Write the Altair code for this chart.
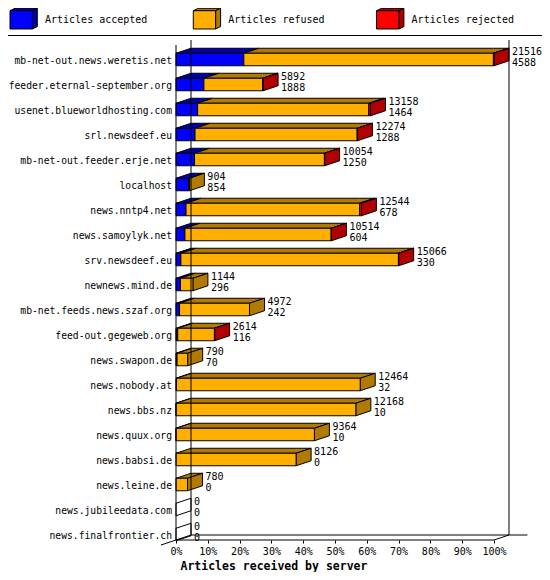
import altair as alt
import pandas as pd

# ------------------------------------------------------------------ data
servers = [
    "mb-net-out.news.weretis.net",
    "feeder.eternal-september.org",
    "usenet.blueworldhosting.com",
    "srl.newsdeef.eu",
    "mb-net-out.feeder.erje.net",
    "localhost",
    "news.nntp4.net",
    "news.samoylyk.net",
    "srv.newsdeef.eu",
    "newnews.mind.de",
    "mb-net.feeds.news.szaf.org",
    "feed-out.gegeweb.org",
    "news.swapon.de",
    "news.nobody.at",
    "news.bbs.nz",
    "news.quux.org",
    "news.babsi.de",
    "news.leine.de",
    "news.jubileedata.com",
    "news.finalfrontier.ch",
]
offered = [21516, 5892, 13158, 12274, 10054, 904, 12544, 10514, 15066, 1144,
           4972, 2614, 790, 12464, 12168, 9364, 8126, 780, 0, 0]
accepted = [4588, 1888, 1464, 1288, 1250, 854, 678, 604, 330, 296,
            242, 116, 70, 32, 10, 10, 0, 0, 0, 0]
refused = [16888, 3984, 11584, 10974, 8792, 50, 11746, 9896, 14720, 848,
           4730, 2484, 720, 12432, 12158, 9354, 8126, 780, 0, 0]
rejected = [40, 20, 110, 12, 12, 0, 120, 14, 16, 0,
            0, 14, 0, 0, 0, 0, 0, 0, 0, 0]
series = ["Articles accepted", "Articles refused", "Articles rejected"]
front_colors = ["#0000ff", "#ffaf00", "#ff0000"]
shade_colors = ["#0000b2", "#b27a00", "#b20000"]
pct_ticks = [0, 10, 20, 30, 40, 50, 60, 70, 80, 90, 100]

# ------------------------------------------------------------------ layout / style
W = 534          # plot width (whole chart width)
PLOT_H = 495     # plot height
PAD_T = 37
PAD_B = 32
PX_PCT = 3.18    # pixels per percent
X0 = 168         # pixel of 0 %
ROW_PX = 25
ROW0 = 14.5
DX = 15 / PX_PCT     # 3-D depth in x (percent units)
DY = 5 / ROW_PX      # 3-D depth in y (row units)
HALF = 0.25
FONT = "DejaVu Sans Mono"

xscale = alt.Scale(domain=[-X0 / PX_PCT, (W - X0) / PX_PCT], nice=False, zero=False)
yscale = alt.Scale(domain=[-ROW0 / ROW_PX, (PLOT_H - ROW0) / ROW_PX],
                   reverse=True, nice=False, zero=False)

maxv = max(offered)
fronts, tops, sides, vals, rows = [], [], [], [], []
for i, name in enumerate(servers):
    rows.append(dict(row=i, server=name))
    start = 0.0
    last = None
    for k, v in enumerate([accepted[i], refused[i], rejected[i]]):
        if v <= 0:
            continue
        x0 = start / maxv * 100
        x1 = (start + v) / maxv * 100
        yt = i - HALF
        fronts.append(dict(x0=x0, x1=x1, yt=yt, yb=i + HALF, col=front_colors[k]))
        pid = f"t{i}_{k}"
        for xx in sorted([x0, x1, x0 + DX, x1 + DX]):
            up = yt - DY * min(1.0, max(0.0, (xx - x0) / DX))
            lo = yt - DY * min(1.0, max(0.0, (xx - x1) / DX))
            tops.append(dict(pid=pid, x=xx, y=lo, y2=up, col=shade_colors[k]))
        start += v
        last = k
    xe = start / maxv * 100
    col = shade_colors[last] if last is not None else "#ffffff"
    sides.append(dict(pid=f"s{i}", x=xe, y=i + HALF, y2=i - HALF, col=col))
    sides.append(dict(pid=f"s{i}", x=xe + DX, y=i + HALF - DY, y2=i - HALF - DY, col=col))
    vals.append(dict(row=i, x=xe + DX, top=str(offered[i]), bottom=str(accepted[i])))

yb_front = (PLOT_H - ROW0) / ROW_PX
yb_back = yb_front - DY
y_top_front = -ROW0 / ROW_PX
frame = pd.DataFrame([
    dict(x=0, x2=0, y=y_top_front, y2=yb_front),
    dict(x=DX, x2=DX, y=y_top_front - DY, y2=yb_back),
    dict(x=100 + DX, x2=100 + DX, y=y_top_front - DY, y2=yb_back),
    dict(x=DX, x2=110.5, y=yb_back, y2=yb_back),
    dict(x=0, x2=100, y=yb_front, y2=yb_front),
    dict(x=100, x2=100 + DX, y=yb_front, y2=yb_back),
    dict(x=-DX, x2=DX, y=yb_front + DY, y2=yb_back),
])

X = lambda f: alt.X(f, scale=xscale, axis=None)
Y = lambda f: alt.Y(f, scale=yscale, axis=None, stack=None)

xaxis = alt.Axis(values=pct_ticks, labelExpr="datum.value + '%'", domain=False, grid=False,
                 ticks=True, tickSize=3, tickColor="black", tickWidth=1,
                 labelFont=FONT, labelFontSize=10, labelColor="black", labelPadding=3,
                 labelFlush=False, labelOverlap=False,
                 title="Articles received by server", titleFont=FONT, titleFontSize=11.5,
                 titleFontWeight="bold", titleColor="black", titleAlign="left",
                 titleAnchor="start", titleX=172, titleY=29, titleBaseline="alphabetic")

top_layer = alt.Chart(pd.DataFrame(tops)).mark_area(
    orient="vertical", stroke="black", strokeWidth=1, opacity=1, interpolate="linear"
).encode(x=X("x:Q"), y=Y("y:Q"), y2="y2:Q", fill=alt.Fill("col:N", scale=None),
         detail="pid:N")

side_layer = alt.Chart(pd.DataFrame(sides)).mark_area(
    orient="vertical", stroke="black", strokeWidth=1, opacity=1, interpolate="linear"
).encode(x=X("x:Q"), y=Y("y:Q"), y2="y2:Q", fill=alt.Fill("col:N", scale=None),
         detail="pid:N")

front_layer = alt.Chart(pd.DataFrame(fronts)).mark_rect(stroke="black", strokeWidth=1).encode(
    x=alt.X("x0:Q", scale=xscale, axis=xaxis), x2="x1:Q",
    y=Y("yt:Q"), y2="yb:Q", fill=alt.Fill("col:N", scale=None))

frame_layer = alt.Chart(frame).mark_rule(color="black", strokeWidth=1).encode(
    x=X("x:Q"), x2="x2:Q", y=Y("y:Q"), y2="y2:Q")

df_vals = pd.DataFrame(vals)
val_top = alt.Chart(df_vals).mark_text(align="left", baseline="alphabetic", dx=3, dy=-5,
                                       font=FONT, fontSize=10, color="black").encode(
    x=X("x:Q"), y=Y("row:Q"), text="top:N")
val_bot = alt.Chart(df_vals).mark_text(align="left", baseline="alphabetic", dx=3, dy=6,
                                       font=FONT, fontSize=10, color="black").encode(
    x=X("x:Q"), y=Y("row:Q"), text="bottom:N")

row_labels = alt.Chart(pd.DataFrame(rows)).mark_text(
    align="right", baseline="alphabetic", dy=4.5, font=FONT, fontSize=9.7, color="black"
).encode(x=alt.value(X0 - 4), y=Y("row:Q"), text="server:N")

# ---- legend (3-D cubes)
df_leg = pd.DataFrame(dict(slot=[0, 1, 2], label=series, front=front_colors, shade=shade_colors))
lscale = alt.Scale(domain=[0, 2], range=[15.65, 15.65 + 2 * 183.3])
cube_front = "M-0.975,-0.568 L0.618,-0.568 L0.618,0.739 L-0.975,0.739 Z"
cube_top = "M-0.975,-0.568 L0.618,-0.568 L0.975,-0.739 L-0.618,-0.739 Z"
cube_side = "M0.618,-0.568 L0.975,-0.739 L0.975,0.568 L0.618,0.739 Z"
leg_base = alt.Chart(df_leg).encode(x=alt.X("slot:Q", scale=lscale, axis=None))
leg_layers = []
for shp, fld in [(cube_top, "shade"), (cube_side, "shade"), (cube_front, "front")]:
    leg_layers.append(leg_base.mark_point(shape=shp, size=784, filled=True, opacity=1,
                                          stroke="black", strokeWidth=1).encode(
        y=alt.value(-26.35), fill=alt.Fill(f"{fld}:N", scale=None)))
leg_text = leg_base.mark_text(align="left", baseline="alphabetic", dx=21.35, font=FONT,
                              fontSize=10, color="black").encode(
    y=alt.value(-21.7), text="label:N")

sep = alt.Chart(df_leg).mark_rule(color="black", strokeWidth=1).encode(
    x=alt.value(0), x2=alt.value(W), y=alt.value(-9.5))

chart = alt.layer(
    top_layer, side_layer, front_layer, frame_layer, val_top, val_bot, row_labels,
    *leg_layers, leg_text, sep
).resolve_scale(x="independent").properties(
    width=W, height=PLOT_H,
    padding={"left": 0, "top": PAD_T, "right": 0, "bottom": PAD_B},
    autosize=alt.AutoSizeParams(type="none"),
    background="white",
).configure_view(stroke=None)

chart.save("out.html", embed_options={"renderer": "svg", "actions": False})
